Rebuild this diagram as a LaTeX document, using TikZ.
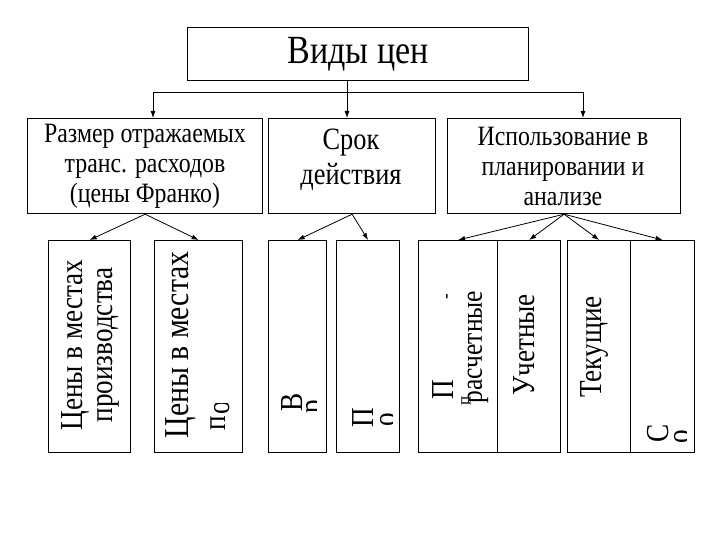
\documentclass[tikz,border=0pt]{standalone}
\usepackage{fontspec}
\usetikzlibrary{arrows.meta}
\newfontfamily\condserif{Liberation Serif}[FakeStretch=0.85]
\tikzset{
  box/.style={draw, line width=1.2pt, anchor=north west, inner sep=0pt},
  lbl/.style={font=\condserif\fontsize{28}{30}\selectfont, align=center, inner sep=0pt},
  vlbl/.style={font=\condserif\fontsize{32}{33}\selectfont, rotate=90, inner sep=0pt},
  arr/.style={line width=0.8pt, -{Latex[length=7pt,width=5pt]}},
  ln/.style={line width=0.8pt}
}
\begin{document}
\begin{tikzpicture}[x=1pt,y=-1pt]
\useasboundingbox (0,0) rectangle (720,540);
% top
\node[box, minimum width=341pt, minimum height=53pt] (top) at (187,27) {};
\node[lbl, font=\condserif\fontsize{40}{42}\selectfont] (toptxt) at (top.center) {Виды цен};
% level 2
\node[box, minimum width=235pt, minimum height=95pt] (A) at (27,118) {};
\node[box, minimum width=167pt, minimum height=95pt] (B) at (268,118) {};
\node[box, minimum width=233pt, minimum height=95pt] (C) at (447,118) {};
\node[lbl] (At) at (145,166) {Размер отражаемых\\транс. расходов\\(цены Франко)};
\node[lbl, font=\condserif\fontsize{31}{35}\selectfont] (Bt) at (351,160) {Срок\\действия};
\node[lbl] (Ct) at (563,166) {Использование в\\планировании и\\анализе};
% connectors top
\coordinate (j) at (347,92);
\coordinate (hl) at (153,92);
\coordinate (hr) at (583,92);
\draw[ln] (top.south -| j) -- (j);
\draw[ln] (hl) -- (hr);
\draw[arr] (hl) -- (hl |- A.north);
\draw[arr] (j) -- (j |- B.north);
\draw[arr] (hr) -- (hr |- C.north);
% level 3 boxes
\node[box, minimum width=82pt, minimum height=212pt] (b1) at (48,240) {};
\node[box, minimum width=88pt, minimum height=212pt] (b2) at (154,240) {};
\node[box, minimum width=58pt, minimum height=212pt] (b3) at (268,240) {};
\node[box, minimum width=63pt, minimum height=212pt] (b4) at (336,240) {};
\node[box, minimum width=79pt, minimum height=212pt] (b5) at (418,240) {};
\node[box, minimum width=63pt, minimum height=212pt] (b6) at (497,240) {};
\node[box, minimum width=63pt, minimum height=212pt] (b7) at (567,240) {};
\node[box, minimum width=64pt, minimum height=212pt] (b8) at (630,240) {};
% level 3 arrows
\draw[arr] (A.south) -- (b1.north);
\draw[arr] (A.south) -- (b2.north);
\draw[arr] (B.south) -- (b3.north);
\draw[arr] (B.south) -- (b4.north);
\draw[arr] (C.south) -- (b5.north);
\draw[arr] (C.south) -- (b6.north);
\draw[arr] (C.south) -- (b7.north);
\draw[arr] (C.south) -- (b8.north);
% level 3 texts
\node[vlbl] (t1a) at (75,345) {Цены в местах};
\node[vlbl] (t1b) at (108,345) {производства};
\node[vlbl, font=\condserif\fontsize{35}{36}\selectfont] (t2a) at (181,345) {Цены в местах};
\node[vlbl, anchor=west] (t2b) at (218,431) {п};
\begin{scope}
\clip (205,403) rectangle (235,414);
\node[vlbl, anchor=base west] (t2c) at (229,415) {о};
\end{scope}
\node[vlbl] (t3a) at (292,402) {В};
\begin{scope}
\clip (300,394) rectangle (316,416);
\node[vlbl, anchor=base west] (t3b) at (321,414) {р};
\end{scope}
\node[vlbl] (t4a) at (363,418) {П};
\begin{scope}
\clip (376,405) rectangle (392,430);
\node[vlbl, anchor=base west] (t4b) at (395,427) {о};
\end{scope}
\node[vlbl] (t5a) at (443,390) {П};
\node[vlbl, font=\condserif\fontsize{20}{20}\selectfont] (t5d) at (449,297) {-};
\node[vlbl, font=\condserif\fontsize{20}{20}\selectfont] (t5b) at (466,401) {п};
\node[vlbl, font=\condserif\fontsize{30}{30}\selectfont] (t5c) at (478,347) {расчетные};
\node[vlbl] (t6) at (524,345) {Учетные};
\node[vlbl] (t7) at (594,347) {Текущие};
\node[vlbl] (t8a) at (658,433) {С};
\begin{scope}
\clip (670,420) rectangle (686,450);
\node[vlbl, anchor=base west] (t8b) at (689,444) {о};
\end{scope}
\end{tikzpicture}
\end{document}
